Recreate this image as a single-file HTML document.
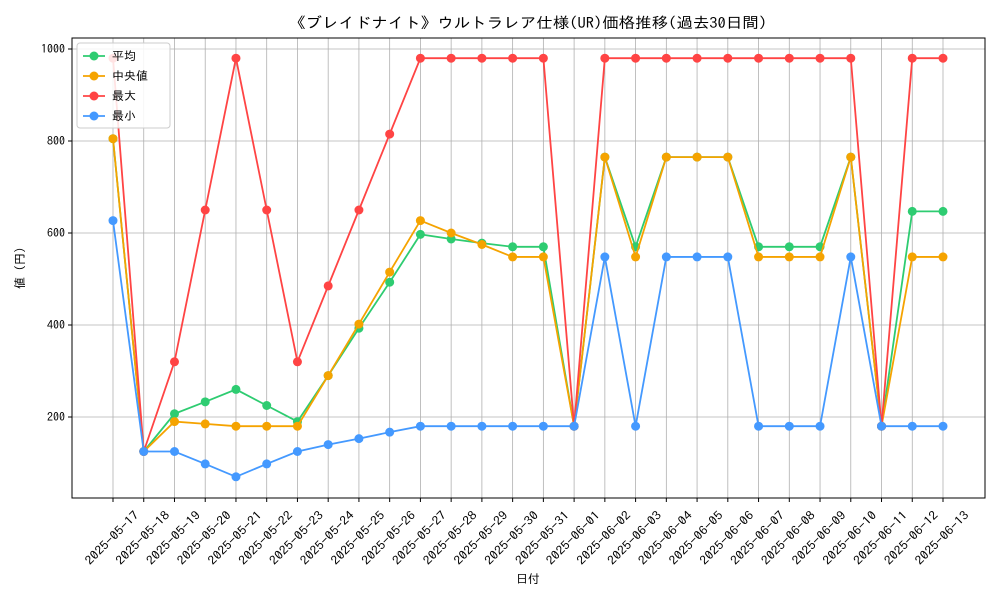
<!DOCTYPE html>
<html><head><meta charset="utf-8"><style>
body{margin:0;background:#fff;font-family:"IPAGothic","Noto Sans CJK JP",sans-serif}
</style></head><body>
<svg id="c" width="1000" height="600" xmlns="http://www.w3.org/2000/svg" font-family="IPAGothic,'Noto Sans CJK JP',sans-serif"></svg>
<script>
const dates=["2025-05-17","2025-05-18","2025-05-19","2025-05-20","2025-05-21","2025-05-22","2025-05-23","2025-05-24","2025-05-25","2025-05-26","2025-05-27","2025-05-28","2025-05-29","2025-05-30","2025-05-31","2025-06-01","2025-06-02","2025-06-03","2025-06-04","2025-06-05","2025-06-06","2025-06-07","2025-06-08","2025-06-09","2025-06-10","2025-06-11","2025-06-12","2025-06-13"];
const avgVals=[805,125,207,233,260,225,190,290,393,493,597,587,578,570,570,180,765,570,765,765,765,570,570,570,765,180,647,647];
const medVals=[805,125,190,185,180,180,180,290,402,515,627,600,575,548,548,180,765,548,765,765,765,548,548,548,765,180,548,548];
const maxVals=[980,125,320,650,980,650,320,485,650,815,980,980,980,980,980,180,980,980,980,980,980,980,980,980,980,180,980,980];
const minVals=[627,125,125,98,70,98,125,140,153,167,180,180,180,180,180,180,548,180,548,548,548,180,180,180,548,180,180,180];
const yTicks=[200,400,600,800,1000];
const seriesNames=["平均","中央値","最大","最小"];
const L=72,R=985,T=38,B=498;
const x=i=>113+i*(943-113)/(dates.length-1);
const y=v=>509-v*0.46;
const svg=document.getElementById('c');
const NS="http://www.w3.org/2000/svg";
function mk(t,a,p){const e=document.createElementNS(NS,t);for(const k in a)e.setAttribute(k,a[k]);(p||svg).appendChild(e);return e;}
let e;
e=mk('text',{x:528,y:28,'text-anchor':'middle','font-size':15,textLength:478,lengthAdjust:'spacingAndGlyphs'});e.textContent="《ブレイドナイト》ウルトラレア仕様(UR)価格推移(過去30日間)";

dates.forEach((d,i)=>{
 e=mk('line',{x1:x(i),x2:x(i),y1:T,y2:B,stroke:'#b0b0b0','stroke-width':0.8});
 
 mk('line',{x1:x(i),x2:x(i),y1:B,y2:B+4,stroke:'#000'});
 e=mk('text',{transform:`translate(${x(i)-1},${B+40}) rotate(-45)`,'text-anchor':'middle','font-size':12,y:4,textLength:70,lengthAdjust:'spacingAndGlyphs'});e.textContent=d;
 
});
yTicks.forEach(v=>{
 e=mk('line',{x1:L,x2:R,y1:y(v),y2:y(v),stroke:'#b0b0b0','stroke-width':0.8});
 
 mk('line',{x1:L-4,x2:L,y1:y(v),y2:y(v),stroke:'#000'});
 e=mk('text',{x:L-7,y:y(v)+4,'text-anchor':'end','font-size':12});e.textContent=v;
 
});
e=mk('rect',{x:L,y:T,width:R-L,height:B-T,fill:'none',stroke:'#000','stroke-width':1});

e=mk('text',{x:528,y:583,'text-anchor':'middle','font-size':12});e.textContent="日付";

e=mk('text',{transform:'translate(24,268) rotate(-90)','text-anchor':'middle','font-size':12});e.textContent="値 (円)";

const series=[[avgVals,'#2ecc71','avg'],[medVals,'#f5a300','median'],[maxVals,'#ff4444','max'],[minVals,'#4499ff','min']];
series.forEach(([vals,col,nm])=>{
 const g=mk('g',{});
 
 mk('polyline',{points:vals.map((v,i)=>x(i)+','+y(v)).join(' '),fill:'none',stroke:col,'stroke-width':1.8},g);
 vals.forEach((v,i)=>{e=mk('circle',{cx:x(i),cy:y(v),r:4.5,fill:col},g);
  });
});
const lg=mk('g',{});

mk('rect',{x:77,y:43,width:93,height:85,rx:3,fill:'#fff','fill-opacity':0.85,stroke:'#ccc'},lg);
series.forEach(([v,col,nm],k)=>{
 const yy=56+k*20;
 const g=mk('g',{},lg);
 
 mk('line',{x1:83,x2:105,y1:yy,y2:yy,stroke:col,'stroke-width':1.8},g);
 mk('circle',{cx:94,cy:yy,r:4.5,fill:col},g);
 const t=mk('text',{x:112,y:yy+4,'font-size':12},g);t.textContent=seriesNames[k];
});
</script>
</body></html>
